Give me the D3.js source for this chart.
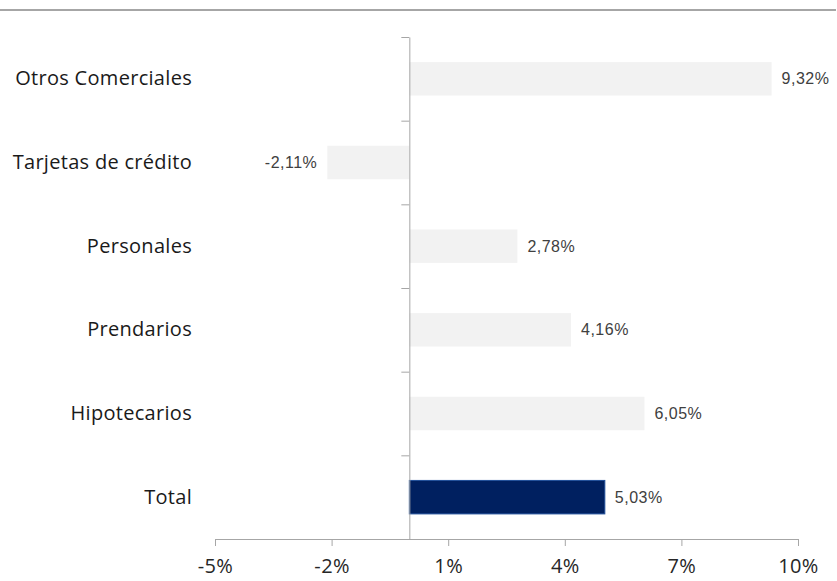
<!DOCTYPE html>
<html>
<head>
<meta charset="utf-8">
<script src="https://cdn.jsdelivr.net/npm/d3@7"></script>
<style>
  body { margin: 0; background: #fff; }
</style>
</head>
<body>
<div id="graph1"></div>
<script>
let width = 837;
let height = 581;

// donnees
let categories = ["Otros Comerciales", "Tarjetas de crédito", "Personales", "Prendarios", "Hipotecarios", "Total"];
let valeurs = [9.32, -2.11, 2.78, 4.16, 6.05, 5.03];
let etiquettes = ["9,32%", "-2,11%", "2,78%", "4,16%", "6,05%", "5,03%"];
let ticksX = [-5, -2, 1, 4, 7, 10];
let ticksXLabels = ["-5%", "-2%", "1%", "4%", "7%", "10%"];

let svg = d3.select('#graph1')
    .append('svg')
        .attr('width', width)
        .attr('height', height);

// ligne grise en haut
svg.append('line')
    .attr('x1', 0).attr('x2', 836)
    .attr('y1', 10).attr('y2', 10)
    .attr('stroke', '#a6a6a6')
    .attr('stroke-width', 2);

let x = d3.scaleLinear()
    .domain([-5, 10])
    .range([215, 798]);

let y = d3.scaleBand()
    .domain(categories)
    .range([37, 539])
    .paddingInner(0.6)
    .paddingOuter(0.3);

// barres
svg.selectAll('rect.barre')
    .data(categories)
    .enter()
    .append('rect')
        .attr('class', 'barre')
        .attr('x', (d, i) => x(Math.min(0, valeurs[i])))
        .attr('y', d => y(d))
        .attr('width', (d, i) => Math.abs(x(valeurs[i]) - x(0)))
        .attr('height', y.bandwidth())
        .attr('fill', (d, i) => d == "Total" ? '#002060' : '#f2f2f2')
        .attr('stroke', (d, i) => d == "Total" ? '#1f4e9a' : 'none')
        .attr('stroke-width', 1);

// etiquettes des valeurs
svg.selectAll('text.valeur')
    .data(categories)
    .enter()
    .append('text')
        .attr('class', 'valeur')
        .attr('x', (d, i) => valeurs[i] < 0 ? x(valeurs[i]) - 10 : x(valeurs[i]) + 10)
        .attr('y', d => y(d) + y.bandwidth() / 2)
        .attr('dy', '0.35em')
        .attr('text-anchor', (d, i) => valeurs[i] < 0 ? 'end' : 'start')
        .style('font-family', 'Liberation Sans, Arial, sans-serif')
        .style('font-size', '16px')
        .style('letter-spacing', '0.5px')
        .attr('fill', '#404040')
        .text((d, i) => etiquettes[i]);

// axe x
let axeX = d3.axisBottom(x)
    .tickValues(ticksX)
    .tickFormat((d, i) => ticksXLabels[i])
    .tickSizeInner(7)
    .tickSizeOuter(0)
    .tickPadding(13);
let gx = svg.append('g')
    .attr('transform', 'translate(0,539)')
    .call(axeX);
gx.select('.domain').attr('stroke', '#a6a6a6');
gx.selectAll('.tick line').attr('stroke', '#a6a6a6');
gx.selectAll('.tick text')
    .style('font-family', 'Open Sans, sans-serif')
    .style('font-size', '20px')
    .style('letter-spacing', '0.4px')
    .attr('fill', '#262626');

// axe y (traits entre les categories)
let yLignes = d3.scaleLinear()
    .domain([0, categories.length])
    .range([37, 539]);
let axeY = d3.axisLeft(yLignes)
    .ticks(categories.length)
    .tickFormat('')
    .tickSizeInner(8)
    .tickSizeOuter(0);
let gy = svg.append('g')
    .attr('transform', 'translate(' + x(0) + ',0)')
    .call(axeY);
gy.select('.domain').attr('stroke', '#a6a6a6');
gy.selectAll('.tick line').attr('stroke', '#a6a6a6');

// noms des categories
let axeCat = d3.axisLeft(y)
    .tickSize(0)
    .tickPadding(0);
let gc = svg.append('g')
    .attr('transform', 'translate(192,0)')
    .call(axeCat);
gc.select('.domain').remove();
gc.selectAll('.tick text')
    .style('font-family', 'Open Sans, sans-serif')
    .style('font-size', '20px')
    .style('letter-spacing', '0.3px')
    .attr('fill', '#1a1a1a');
</script>
</body>
</html>
